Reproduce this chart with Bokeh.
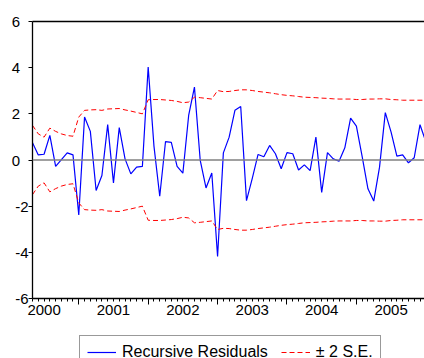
from bokeh.plotting import figure
from bokeh.layouts import column
from bokeh.models import (Range1d, LinearAxis, FixedTicker, Span, Legend,
                          CustomJSTickFormatter)
from bokeh.embed import file_html
from bokeh.resources import INLINE

# ---- data (monthly, May 2000 onward) ----
start_year = 2000
start_month = 5
resid = [0.75, 0.22, 0.25, 1.07, -0.28, 0.02, 0.31, 0.22, -2.38, 1.86, 1.24, -1.32,
         -0.67, 1.53, -0.99, 1.40, 0.05, -0.60, -0.31, -0.28, 4.03, 0.60, -1.57, 0.80,
         0.76, -0.28, -0.57, 1.93, 3.16, -0.02, -1.21, -0.56, -4.18, 0.31, 0.99, 2.15,
         2.32, -1.76, -0.80, 0.24, 0.14, 0.63, 0.27, -0.38, 0.32, 0.27, -0.43, -0.21,
         -0.46, 0.99, -1.40, 0.32, 0.05, -0.05, 0.53, 1.81, 1.47, 0.15, -1.25, -1.78,
         -0.31, 2.05, 1.21, 0.17, 0.22, -0.12, 0.10, 1.53, 0.80]
se2 = [1.50, 1.13, 0.99, 1.38, 1.24, 1.13, 1.06, 1.03, 1.86, 2.15, 2.17, 2.18,
       2.15, 2.21, 2.22, 2.23, 2.17, 2.12, 2.06, 2.00, 2.61, 2.62, 2.62, 2.60,
       2.58, 2.54, 2.48, 2.51, 2.72, 2.70, 2.67, 2.64, 3.01, 2.96, 2.97, 3.01,
       3.04, 3.04, 3.01, 2.97, 2.94, 2.91, 2.87, 2.83, 2.80, 2.78, 2.75, 2.72,
       2.71, 2.70, 2.68, 2.67, 2.65, 2.64, 2.64, 2.64, 2.62, 2.62, 2.64, 2.64,
       2.65, 2.65, 2.62, 2.61, 2.59, 2.59, 2.59, 2.59, 2.59]
years = [2000, 2001, 2002, 2003, 2004, 2005, 2006]
y_ticks = [-6, -4, -2, 0, 2, 4, 6]
series_names = ["Recursive Residuals", "\u00b1 2 S.E."]

x = [start_year + (start_month - 1 + i) / 12 for i in range(len(resid))]
upper = list(se2)
lower = [-v for v in se2]

FONT = "Liberation Sans"
BLUE = "#0000FF"
RED = "#FF0000"

p = figure(width=424, height=330, output_backend="svg", toolbar_location=None,
           x_axis_type=None, y_axis_type=None,
           x_range=Range1d(x[0], x[0] + 5.648), y_range=Range1d(-6, 6),
           min_border_left=32, min_border_right=0, min_border_top=21,
           min_border_bottom=32)
p.outline_line_color = None
p.grid.visible = False
p.background_fill_color = "white"
p.border_fill_color = "white"

# top border line
top = LinearAxis(ticker=FixedTicker(ticks=[]), axis_line_color="black",
                 axis_line_width=1.3, major_label_text_font_size="0px",
                 major_tick_out=0, minor_tick_out=0, major_label_standoff=0)
p.add_layout(top, "above")

# left axis
yax = LinearAxis(ticker=FixedTicker(ticks=y_ticks), axis_line_color="black",
                 axis_line_width=1.3, major_tick_out=4, major_tick_in=0,
                 minor_tick_out=0, minor_tick_in=0,
                 major_tick_line_color="black",
                 major_label_text_font=FONT, major_label_text_font_size="15px",
                 major_label_text_color="black", major_label_standoff=0,
                 formatter=CustomJSTickFormatter(
                     code="return tick < 0 ? String(tick) : String(tick) + '\\u2007'"))
p.add_layout(yax, "left")

# bottom axis: year-boundary ticks + monthly minor ticks
months = [y + m / 12 for y in years[:-1] for m in range(12)] + [years[-1]]
xax = LinearAxis(ticker=FixedTicker(ticks=years, minor_ticks=months),
                 axis_line_color="black", axis_line_width=1.3,
                 major_tick_out=6, major_tick_in=0, minor_tick_out=3, minor_tick_in=0,
                 major_tick_line_color="black", minor_tick_line_color="black",
                 major_label_text_font_size="0px", major_label_standoff=0)
p.add_layout(xax, "below")

# bottom labels centered in each year
mid = [y + 0.5 for y in years[:-1]]
lab = LinearAxis(ticker=FixedTicker(ticks=mid), axis_line_color=None,
                 major_tick_line_color=None, minor_tick_line_color=None,
                 major_tick_out=0, major_tick_in=0, minor_tick_out=0, minor_tick_in=0,
                 major_label_text_font=FONT, major_label_text_font_size="15px",
                 major_label_text_color="black", major_label_standoff=0,
                 formatter=CustomJSTickFormatter(code="return String(Math.floor(tick))"))
p.add_layout(lab, "below")

p.add_layout(Span(location=0, dimension="width", line_color="#808080", line_width=1.5))

p.line(x, resid, line_color=BLUE, line_width=1.2)
p.line(x, upper, line_color=RED, line_width=1, line_dash="5 3")
p.line(x, lower, line_color=RED, line_width=1, line_dash="5 3")

# legend strip below the chart (its series lie outside its ranges, only the key shows)
q = figure(width=424, height=28, output_backend="svg", toolbar_location=None,
           x_axis_type=None, y_axis_type=None,
           x_range=Range1d(0, 1), y_range=Range1d(0, 1),
           min_border_left=32, min_border_right=0, min_border_top=0,
           min_border_bottom=0)
q.outline_line_color = None
q.grid.visible = False
q.border_fill_color = "white"
d1 = q.line(x, resid, line_color=BLUE, line_width=1.2)
d2 = q.line(x, upper, line_color=RED, line_width=1, line_dash="5 3")
legend = Legend(items=[(series_names[0], [d1]), (series_names[1], [d2])],
                orientation="horizontal", location=(47, -11),
                label_text_font=FONT, label_text_font_size="16px",
                label_text_color="black", glyph_width=29, glyph_height=16,
                label_height=16, label_standoff=6, spacing=13, padding=7, margin=0,
                border_line_color="#333333", border_line_width=1,
                background_fill_color="white", background_fill_alpha=1)
q.add_layout(legend, "center")

layout = column(p, q, spacing=0)
open("out.html", "w").write(file_html(layout, INLINE))
